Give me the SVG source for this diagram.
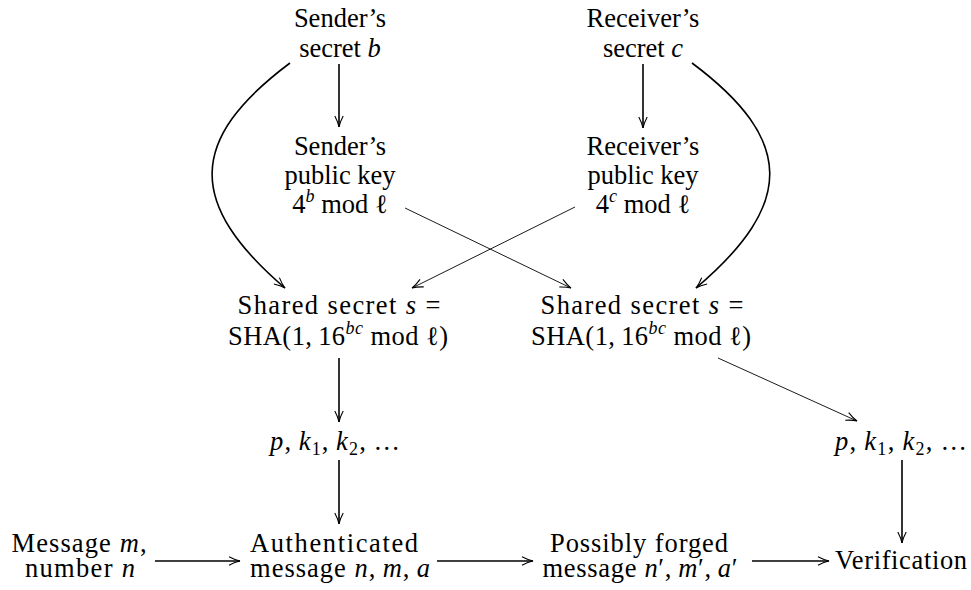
<svg xmlns="http://www.w3.org/2000/svg" width="971" height="590" viewBox="0 0 971 590">
<style>
text{font-family:'Liberation Serif','DejaVu Serif','Times New Roman',serif;font-size:26.5px;text-anchor:middle;fill:#000}
.i{font-style:italic}
.sup{font-size:18px;font-style:italic}
.sub{font-size:18px}
.thick{fill:none;stroke:#000;stroke-width:1.6}
.thin{fill:none;stroke:#000;stroke-width:0.9}
</style>
<defs>
<marker id="ah" markerUnits="userSpaceOnUse" orient="auto" overflow="visible" markerWidth="12" markerHeight="10">
<path d="M-11,-4.2 Q-5,-1 0,0 Q-5,1 -11,4.2" fill="none" stroke="#000" stroke-width="1.1"/>
</marker>
</defs>
<rect width="971" height="590" fill="#fff"/>
<g id="connectors">
<path class="thick" d="M290,63 C187,140 187,204 285,288" marker-end="url(#ah)"/>
<path class="thick" d="M692,63 C795,140 795,204 696,288" marker-end="url(#ah)"/>
<line class="thick" x1="339" y1="64" x2="339" y2="127" marker-end="url(#ah)"/>
<line class="thick" x1="643" y1="64" x2="643" y2="128" marker-end="url(#ah)"/>
<line class="thin" x1="405" y1="208" x2="571" y2="288" marker-end="url(#ah)"/>
<line class="thin" x1="575" y1="207" x2="412" y2="288" marker-end="url(#ah)"/>
<line class="thin" x1="718" y1="358" x2="857" y2="421" marker-end="url(#ah)"/>
<line class="thick" x1="339" y1="358" x2="339" y2="422" marker-end="url(#ah)"/>
<line class="thick" x1="339" y1="460" x2="339" y2="524" marker-end="url(#ah)"/>
<line class="thick" x1="902" y1="460" x2="902" y2="543" marker-end="url(#ah)"/>
<line class="thick" x1="155" y1="561" x2="240" y2="561" marker-end="url(#ah)"/>
<line class="thick" x1="437" y1="561" x2="533" y2="561" marker-end="url(#ah)"/>
<line class="thick" x1="752" y1="561" x2="829" y2="561" marker-end="url(#ah)"/>
</g>
<g font-family="Liberation Serif, serif">
<g id="sender-secret">
<text x="340" y="27">Sender’s</text>
<text x="340" y="57">secret <tspan class="i">b</tspan></text>
</g>
<g id="receiver-secret">
<text x="643" y="27">Receiver’s</text>
<text x="643" y="57">secret <tspan class="i">c</tspan></text>
</g>
<g id="sender-public">
<text x="340" y="155">Sender’s</text>
<text x="340" y="184">public key</text>
<text x="340" y="213">4<tspan class="sup" dy="-11">b</tspan><tspan dy="11"> mod ℓ</tspan></text>
</g>
<g id="receiver-public">
<text x="643" y="155">Receiver’s</text>
<text x="643" y="184">public key</text>
<text x="643" y="213">4<tspan class="sup" dy="-11">c</tspan><tspan dy="11"> mod ℓ</tspan></text>
</g>
<g id="shared-left">
<text x="339" y="314" textLength="203" lengthAdjust="spacing">Shared secret <tspan class="i">s</tspan> =</text>
<text x="338" y="345" textLength="220" lengthAdjust="spacing">SHA(1,&#8201;16<tspan class="sup" dy="-11">bc</tspan><tspan dy="11"> mod ℓ)</tspan></text>
</g>
<g id="shared-right">
<text x="642" y="314" textLength="203" lengthAdjust="spacing">Shared secret <tspan class="i">s</tspan> =</text>
<text x="641" y="345" textLength="220" lengthAdjust="spacing">SHA(1,&#8201;16<tspan class="sup" dy="-11">bc</tspan><tspan dy="11"> mod ℓ)</tspan></text>
</g>
<g id="keys-left">
<text x="335" y="450" textLength="130" lengthAdjust="spacing"><tspan class="i">p</tspan>,&#8201;<tspan class="i">k</tspan><tspan class="sub" dy="5">1</tspan><tspan dy="-5">,&#8201;</tspan><tspan class="i">k</tspan><tspan class="sub" dy="5">2</tspan><tspan dy="-5">,&#8201;…</tspan></text>
</g>
<g id="keys-right">
<text x="901" y="450" textLength="132" lengthAdjust="spacing"><tspan class="i">p</tspan>,&#8201;<tspan class="i">k</tspan><tspan class="sub" dy="5">1</tspan><tspan dy="-5">,&#8201;</tspan><tspan class="i">k</tspan><tspan class="sub" dy="5">2</tspan><tspan dy="-5">,&#8201;…</tspan></text>
</g>
<g id="message">
<text x="79" y="552" textLength="135" lengthAdjust="spacing">Message <tspan class="i">m</tspan>,</text>
<text x="80" y="577" textLength="110" lengthAdjust="spacing">number <tspan class="i">n</tspan></text>
</g>
<g id="authenticated">
<text x="334" y="552" textLength="168" lengthAdjust="spacing">Authenticated</text>
<text x="340" y="577" textLength="180" lengthAdjust="spacing">message <tspan class="i">n</tspan>,&#8201;<tspan class="i">m</tspan>,&#8201;<tspan class="i">a</tspan></text>
</g>
<g id="forged">
<text x="639" y="552" textLength="178" lengthAdjust="spacing">Possibly forged</text>
<text x="640" y="577" textLength="195" lengthAdjust="spacing">message <tspan class="i">n</tspan>′,&#8201;<tspan class="i">m</tspan>′,&#8201;<tspan class="i">a</tspan>′</text>
</g>
<g id="verification">
<text x="901" y="569" textLength="132" lengthAdjust="spacing">Verification</text>
</g>
</g>
</svg>
